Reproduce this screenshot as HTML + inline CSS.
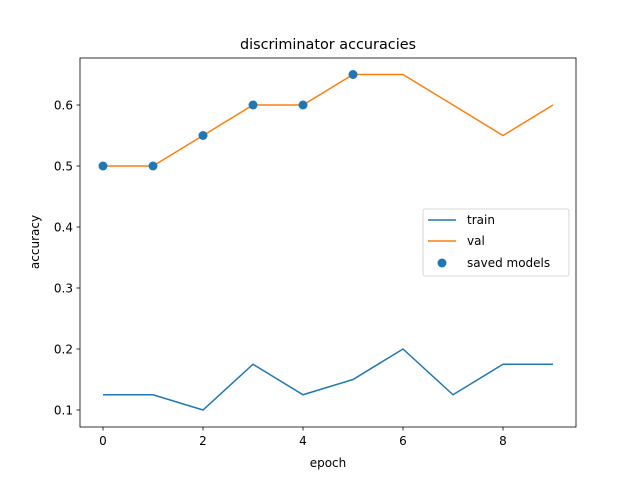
<!DOCTYPE html>
<html><head><meta charset="utf-8"><style>
body{margin:0;background:#fff}
svg{font-family:"DejaVu Sans","Liberation Sans",sans-serif}
</style></head><body>
<svg id="chart" width="640" height="480" viewBox="0 0 640 480">
<rect width="640" height="480" fill="#fff"/>
<text x="328" y="49" font-size="14.4" text-anchor="middle">discriminator accuracies</text>
<g id="plot"></g>
<rect x="80" y="58" width="496" height="369" fill="none" stroke="#000" stroke-width="0.8"/>
<text x="328" y="467" font-size="12" text-anchor="middle">epoch</text>
<text x="39" y="242" font-size="12" text-anchor="middle" transform="rotate(-90 39 242)">accuracy</text>
<g>
<rect x="423" y="209" width="146" height="67" rx="2" fill="#fff" fill-opacity="0.8" stroke="#ccc" stroke-width="0.8"/>
<line x1="428" y1="220" x2="456" y2="220" stroke="#1f77b4" stroke-width="1.5"/>
<text x="467" y="224" font-size="12">train</text>
<line x1="428" y1="241" x2="456" y2="241" stroke="#ff7f0e" stroke-width="1.5"/>
<text x="467" y="245" font-size="12">val</text>
<circle cx="442" cy="263" r="4.5" fill="#1f77b4"/>
<text x="467" y="267" font-size="12">saved models</text>
</g>
</svg>
<script>
const epochs=[0,1,2,3,4,5,6,7,8,9];
const trainAcc=[0.125,0.125,0.1,0.175,0.125,0.15,0.2,0.125,0.175,0.175];
const valAcc=[0.5,0.5,0.55,0.6,0.6,0.65,0.65,0.6,0.55,0.6];
const savedEpochs=[0,1,2,3,4,5];
const savedAcc=[0.5,0.5,0.55,0.6,0.6,0.65];
const xTicks=[0,2,4,6,8];
const yTicks=[0.1,0.2,0.3,0.4,0.5,0.6];
const NS="http://www.w3.org/2000/svg";
const xs=v=>103+v*50;
const ys=v=>410-(v-0.1)*610;
const g=document.getElementById('plot');
function mk(t,a){const e=document.createElementNS(NS,t);for(const k in a)e.setAttribute(k,a[k]);g.appendChild(e);return e;}
xTicks.forEach(t=>{
 const l=mk('line',{x1:xs(t),x2:xs(t),y1:427,y2:430.5,stroke:'#000','stroke-width':0.8});
 
 
 const tx=mk('text',{x:xs(t),y:445,'font-size':12,'text-anchor':'middle'});tx.textContent=t;
 
 
});
yTicks.forEach(t=>{
 const l=mk('line',{x1:76.5,x2:80,y1:ys(t),y2:ys(t),stroke:'#000','stroke-width':0.8});
 
 
 const tx=mk('text',{x:73,y:ys(t)+4.5,'font-size':12,'text-anchor':'end'});tx.textContent=t.toFixed(1);
 
 
});
const tp=mk('polyline',{points:epochs.map((e,i)=>xs(e)+','+ys(trainAcc[i])).join(' '),fill:'none',stroke:'#1f77b4','stroke-width':1.5});


const vp=mk('polyline',{points:epochs.map((e,i)=>xs(e)+','+ys(valAcc[i])).join(' '),fill:'none',stroke:'#ff7f0e','stroke-width':1.5});


savedEpochs.forEach((e,i)=>{
 const c=mk('circle',{cx:xs(e),cy:ys(savedAcc[i]),r:4.5,fill:'#1f77b4'});
 
 
});
</script>
</body></html>
